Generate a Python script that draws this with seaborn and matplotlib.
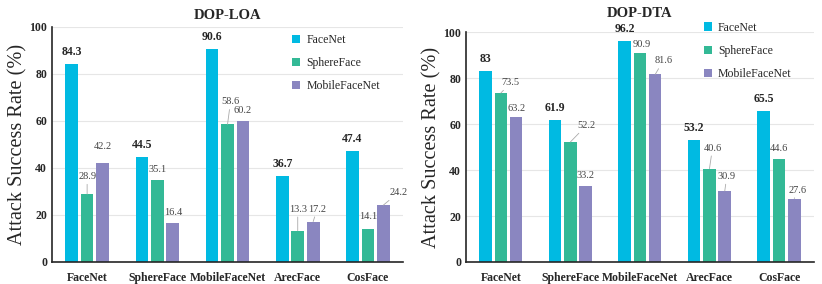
import numpy as np
import pandas as pd
import matplotlib
matplotlib.use("Agg")
import matplotlib.pyplot as plt
import seaborn as sns

models = ["FaceNet", "SphereFace", "MobileFaceNet", "ArecFace", "CosFace"]
series = ["FaceNet", "SphereFace", "MobileFaceNet"]

loa_facenet = [84.3, 44.5, 90.6, 36.7, 47.4]
loa_sphereface = [28.9, 35.1, 58.6, 13.3, 14.1]
loa_mobile = [42.2, 16.4, 60.2, 17.2, 24.2]

dta_facenet = [83, 61.9, 96.2, 53.2, 65.5]
dta_sphereface = [73.5, 52.2, 90.9, 40.6, 44.6]
dta_mobile = [63.2, 33.2, 81.6, 30.9, 27.6]

colors = ["#00BAE2", "#33B996", "#8A86C0"]

# label offsets in pixels (series, model) -> (dx, dy, leader line?)
loa_offsets = {(1, 0): (0, 13, True), (2, 0): (0, 12, False), (1, 2): (3, 18, True),
               (1, 3): (0, 17, True), (2, 3): (4, 8, True), (2, 4): (15, 8, True),
               (1, 4): (0, 8, False)}
dta_offsets = {(1, 0): (10, 6, True), (1, 1): (16, 12, True), (1, 2): (2, 4, False),
               (2, 2): (8, 9, True), (1, 3): (3, 16, True), (2, 3): (2, 10, True),
               (2, 4): (3, 4, True), (2, 0): (0, 4, False)}


def make_df(a, b, c):
    rows = []
    for s, vals in zip(series, [a, b, c]):
        for m, v in zip(models, vals):
            rows.append({"model": m, "series": s, "value": v})
    return pd.DataFrame(rows)


def draw(ax, df, title, offsets, title_pad):
    sns.barplot(data=df, x="model", y="value", hue="series", order=models,
                hue_order=series, palette=colors, width=0.66, gap=0.18,
                saturation=1, ax=ax, edgecolor="none")
    ax.set_ylim(0, 100)
    ax.set_xlim(-0.5, 4.5)
    ax.set_yticks(np.arange(0, 101, 20))
    ax.yaxis.grid(True, color="#e6e6e6", linewidth=0.8)
    ax.set_axisbelow(True)
    for sp in ["top", "right"]:
        ax.spines[sp].set_visible(False)
    ax.spines["left"].set_linewidth(1.2)
    ax.spines["bottom"].set_linewidth(1.2)
    ax.tick_params(axis="x", length=0, pad=7)
    ax.set_xticks(np.arange(-0.5, 4.6, 1), minor=True)
    ax.tick_params(axis="x", which="minor", direction="in", length=4, width=1)
    ax.tick_params(axis="y", direction="in", length=3, width=1)
    for lab in ax.get_xticklabels() + ax.get_yticklabels():
        lab.set_fontweight("bold")
        lab.set_fontsize(8.5)
    ax.set_xlabel("")
    ax.set_ylabel("Attack Success Rate (%)", fontsize=14.6, labelpad=1)
    ax.set_title(title, fontsize=10.5, fontweight="bold", pad=title_pad)

    for si, cont in enumerate(ax.containers):
        for mi, bar in enumerate(cont):
            h = bar.get_height()
            x = bar.get_x() + bar.get_width() / 2
            txt = f"{h:g}"
            if si == 0:
                ax.annotate(txt, (x, h), xytext=(0, 6), textcoords="offset pixels",
                            ha="center", va="bottom", fontsize=8.5, fontweight="bold")
                continue
            dx, dy, line = offsets.get((si, mi), (0, 6, False))
            props = None
            if line:
                props = dict(arrowstyle="-", color="#aaaaaa", lw=0.6, shrinkA=0, shrinkB=0)
            ax.annotate(txt, (x, h), xytext=(dx, dy), textcoords="offset pixels",
                        ha="center", va="bottom", fontsize=7.5, color="#444444",
                        arrowprops=props)


sns.set_style("white")
plt.rcParams["font.family"] = ["Liberation Serif", "DejaVu Serif"]

fig, axes = plt.subplots(1, 2, figsize=(8.22, 2.84), dpi=100)
draw(axes[0], make_df(loa_facenet, loa_sphereface, loa_mobile), "DOP-LOA", loa_offsets, 6)
draw(axes[1], make_df(dta_facenet, dta_sphereface, dta_mobile), "DOP-DTA", dta_offsets, 11)
axes[0].set_position([0.0633, 0.0775, 0.427, 0.8275])
axes[1].set_position([0.567, 0.0775, 0.423, 0.8095])
axes[0].legend(frameon=False, fontsize=8.5, loc="upper left", bbox_to_anchor=(0.684, 0.97),
               handlelength=0.7, handleheight=0.7, handletextpad=0.5, labelspacing=0.95,
               borderaxespad=0, borderpad=0)
axes[1].legend(frameon=False, fontsize=8.5, loc="upper left", bbox_to_anchor=(0.684, 1.045),
               handlelength=0.7, handleheight=0.7, handletextpad=0.5, labelspacing=0.95,
               borderaxespad=0, borderpad=0)
fig.savefig("out.png", dpi=100)
